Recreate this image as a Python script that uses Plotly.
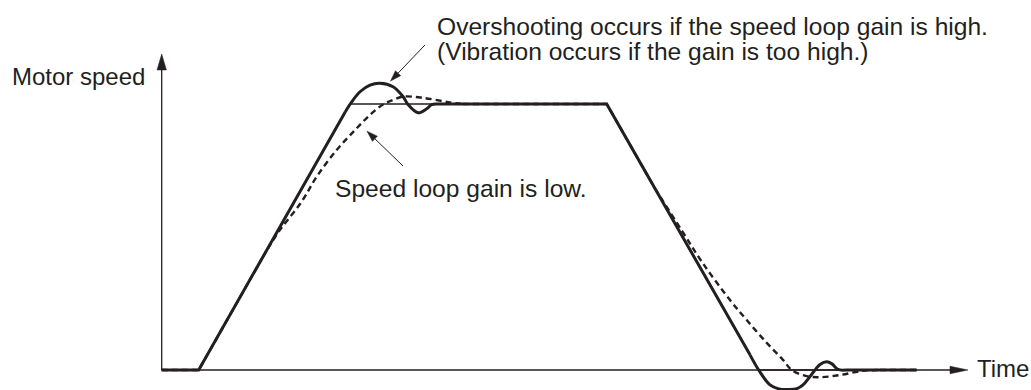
import math
import plotly.graph_objects as go

# Time axis in ms, speed in % of the commanded speed.
# Speed command (thin line)
CMD_T = [0, 3.7, 18.8, 44.5, 59.7, 75.5]
CMD_S = [0, 0, 100, 100, 0, 0]

# Response with a high speed loop gain (thick solid line), split into
# straight runs and curved (overshoot / undershoot) pieces.
HIGH_RAMP_T = [0, 3.7, 18.35]
HIGH_RAMP_S = [0, 0, 97.0]
HIGH_OVERSHOOT_T = [18.35, 19.0, 19.83, 20.83, 21.83, 23.13, 24.13, 24.63, 25.63, 26.5, 27.0, 27.7, 29.0]
HIGH_OVERSHOOT_S = [97.0, 100.8, 104.6, 107.1, 107.8, 106.5, 102.8, 99.8, 96.7, 98.2, 99.8, 100.0, 100.0]
HIGH_FLAT_T = [29.0, 44.5, 58.83]
HIGH_FLAT_S = [100, 100, 5.7]
HIGH_UNDERSHOOT_T = [58.83, 59.7, 60.83, 61.73, 62.63, 63.53, 64.13, 65.33, 65.83, 66.5, 67.03, 67.63, 68.43]
HIGH_UNDERSHOOT_S = [5.7, 0, -5.6, -7.1, -7.3, -7.0, -5.6, 0, 2.1, 3.1, 2.3, 0.2, 0]
HIGH_TAIL_T = [68.43, 75.5]
HIGH_TAIL_S = [0, 0]

# Response with a low speed loop gain (dashed line)
LOW_RAMP_T = [0, 3.7, 10.1]
LOW_RAMP_S = [0, 0, 42.4]
LOW_RISE_T = [10.1, 11.7, 14.0, 15.5, 17.5, 19.33, 20.83, 22.13, 23.13, 24.13, 26.13, 28.83, 30.13]
LOW_RISE_S = [42.4, 52.0, 63.3, 72.7, 82.7, 90.2, 95.9, 99.8, 101.5, 102.8, 102.3, 100.6, 100.0]
LOW_FLAT_T = [30.13, 44.5, 49.33]
LOW_FLAT_S = [100, 100, 68.2]
LOW_FALL_T = [49.33, 52.03, 54.03, 56.83, 58.5, 60.5, 62.13, 63.0, 64.5, 65.83, 67.83, 70.13, 71.83]
LOW_FALL_S = [68.2, 52.3, 40.6, 26.3, 18.8, 10.2, 3.8, 0, -2.3, -2.7, -1.9, -0.3, 0]
LOW_TAIL_T = [71.83, 75.5]
LOW_TAIL_S = [0, 0]

# Axes extents
AXIS_T_END = 80.63
AXIS_S_END = 118.8

INK = "#231f20"
FONT = "Liberation Sans, Arial, Helvetica, sans-serif"

# Screen scale of the data units (pixels per unit), used to keep arrowheads undistorted
PX_T = 10.0
PX_S = 2.66
X_RANGE = [-16.17, 86.93]
Y_RANGE = [-7.519, 139.098]

fig = go.Figure()


def add_line(t, s, width, dash="solid", shape="linear"):
    fig.add_trace(go.Scatter(
        x=t, y=s, mode="lines",
        line=dict(color=INK, width=width, dash=dash, shape=shape, smoothing=1.0),
        hoverinfo="skip", showlegend=False,
    ))


def add_arrow(t0, s0, t1, s1, head_len, head_half, width):
    """Straight line from (t0, s0) ending in a filled head at (t1, s1)."""
    dx = (t1 - t0) * PX_T
    dy = (s1 - s0) * PX_S
    n = math.hypot(dx, dy)
    ux, uy = dx / n, dy / n
    bx, by = t1 * PX_T - ux * head_len, s1 * PX_S - uy * head_len
    px, py = -uy * head_half, ux * head_half
    fig.add_trace(go.Scatter(
        x=[t0, bx / PX_T], y=[s0, by / PX_S], mode="lines",
        line=dict(color=INK, width=width), hoverinfo="skip", showlegend=False,
    ))
    fig.add_trace(go.Scatter(
        x=[t1, (bx + px) / PX_T, (bx - px) / PX_T, t1],
        y=[s1, (by + py) / PX_S, (by - py) / PX_S, s1],
        mode="lines", fill="toself", fillcolor=INK,
        line=dict(color=INK, width=0.5), hoverinfo="skip", showlegend=False,
    ))


# Axes
add_arrow(0, 0, 0, AXIS_S_END, 16, 4.7, 1.3)
add_arrow(0, 0, AXIS_T_END, 0, 18, 3.8, 1.3)

# Command
add_line(CMD_T, CMD_S, 1.4)

# Low gain response
DASH = "6px,4px"
add_line(LOW_RAMP_T, LOW_RAMP_S, 2.4, DASH)
add_line(LOW_RISE_T, LOW_RISE_S, 2.4, DASH, "spline")
add_line(LOW_FLAT_T, LOW_FLAT_S, 2.4, DASH)
add_line(LOW_FALL_T, LOW_FALL_S, 2.4, DASH, "spline")
add_line(LOW_TAIL_T, LOW_TAIL_S, 2.4, DASH)

# High gain response
add_line(HIGH_RAMP_T, HIGH_RAMP_S, 3)
add_line(HIGH_OVERSHOOT_T, HIGH_OVERSHOOT_S, 3, shape="spline")
add_line(HIGH_FLAT_T, HIGH_FLAT_S, 3)
add_line(HIGH_UNDERSHOOT_T, HIGH_UNDERSHOOT_S, 3, shape="spline")
add_line(HIGH_TAIL_T, HIGH_TAIL_S, 3)

# Pointers to the two responses
add_arrow(26.33, 122.2, 22.88, 108.6, 11, 3.6, 1)
add_arrow(24.13, 76.7, 20.53, 89.8, 11, 3.6, 1)


def label(text, t, s, size=24):
    fig.add_annotation(
        x=t, y=s, xref="x", yref="y", text=text, showarrow=False,
        xanchor="left", yanchor="middle",
        font=dict(family=FONT, size=size, color=INK),
    )


label("Motor speed", -15.2, 110.3)
label("Overshooting occurs if the speed loop gain is high.", 27.3, 129.1, 24.6)
label("(Vibration occurs if the gain is too high.)", 27.3, 119.7, 24.6)
label("Speed loop gain is low.", 17.15, 68.3, 24.6)
label("Time", 81.3, 0.6)

fig.update_layout(
    width=1031, height=390, autosize=False,
    margin=dict(l=0, r=0, t=0, b=0),
    paper_bgcolor="white", plot_bgcolor="white",
    xaxis=dict(range=X_RANGE, visible=False, fixedrange=True),
    yaxis=dict(range=Y_RANGE, visible=False, fixedrange=True),
    showlegend=False,
)

fig.write_html("out.html")
